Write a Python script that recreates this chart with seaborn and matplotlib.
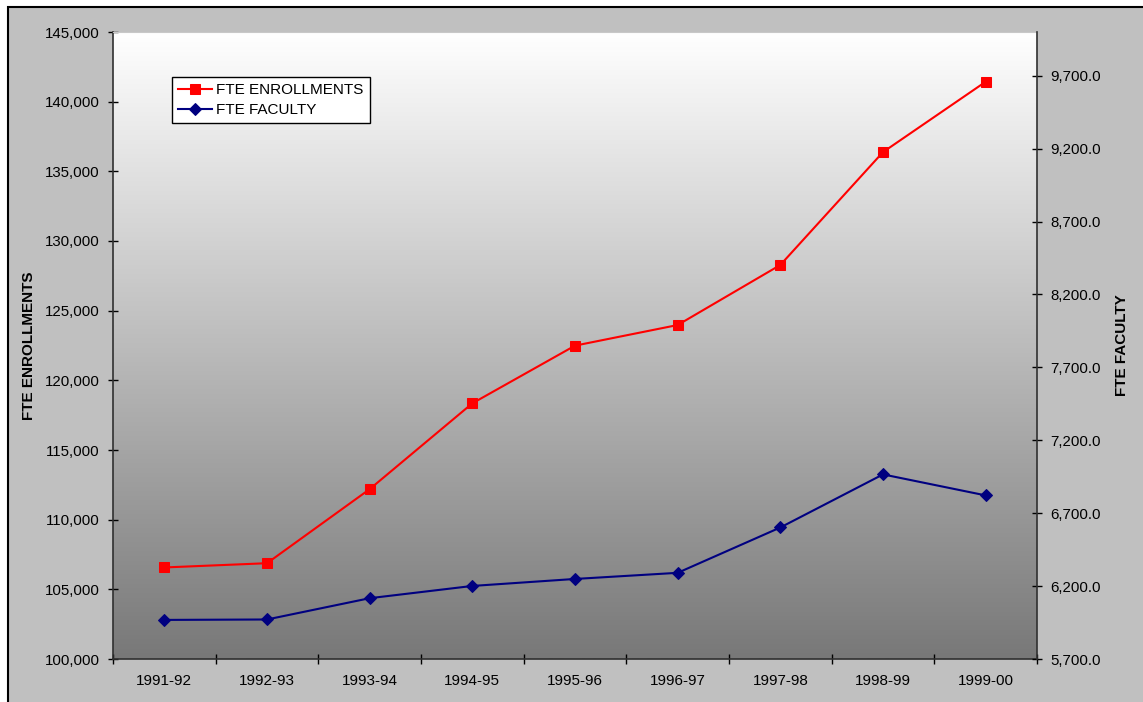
import numpy as np
import pandas as pd
import matplotlib
matplotlib.use('Agg')
import matplotlib.pyplot as plt
import seaborn as sns
from matplotlib.colors import LinearSegmentedColormap
from matplotlib.patches import Rectangle
from matplotlib.ticker import StrMethodFormatter

# chart data
years = ['1991-92', '1992-93', '1993-94', '1994-95', '1995-96',
         '1996-97', '1997-98', '1998-99', '1999-00']
enrollments = [106570, 106875, 112190, 118350, 122490,
               123970, 128280, 136380, 141430]
faculty = [5968, 5971, 6117, 6201, 6249, 6291, 6602, 6966, 6822]

left_ticks = list(range(100000, 145001, 5000))
right_ticks = list(range(5700, 9701, 500))

plt.rcParams['font.family'] = ['Liberation Sans', 'DejaVu Sans']
plt.rcParams['font.size'] = 10.8

df = pd.DataFrame({'pos': np.arange(len(years)), 'year': years,
                   'enroll': enrollments, 'faculty': faculty})

W, H = 1143, 702
fig = plt.figure(figsize=(W / 100, H / 100), dpi=100)
fig.patch.set_facecolor('white')

# grey chart area with black border (runs off the right/bottom edge)
fig.add_artist(Rectangle((8 / W, -0.05), 1.1, 1 - 7 / H + 0.05,
                         transform=fig.transFigure, facecolor='#C0C0C0',
                         edgecolor='black', linewidth=1.5, zorder=0))

left, right, top, bottom = 113, 1037, 32, 659
ax = fig.add_axes([left / W, 1 - bottom / H, (right - left) / W, (bottom - top) / H])

# white-to-grey vertical gradient for the plot area
grad = LinearSegmentedColormap.from_list('bg', ['#FFFFFF', '#787878'])
ax.imshow(np.linspace(0, 1, 256).reshape(-1, 1), cmap=grad, aspect='auto',
          extent=[-0.5, len(years) - 0.5, 100000, 145000], zorder=0)

sns.lineplot(data=df, x='pos', y='enroll', ax=ax, color='#FF0000',
             marker='s', markersize=7, markeredgecolor='#FF0000',
             linewidth=1.5, label='FTE ENROLLMENTS', legend=False, zorder=3)

ax.set_xlim(-0.5, len(years) - 0.5)
ax.set_ylim(100000, 145000)
ax.set_xticks(df['pos'])
ax.set_xticklabels(years, fontsize=11)
ax.set_xticks(np.arange(-0.5, len(years)), minor=True)
ax.tick_params(axis='x', which='major', length=0, pad=11)
ax.tick_params(axis='x', which='minor', direction='inout', length=7, width=1)
ax.set_yticks(left_ticks)
ax.yaxis.set_major_formatter(StrMethodFormatter('{x:,.0f}'))
ax.tick_params(axis='y', direction='inout', length=7, width=1, pad=6)
ax.set_xlabel('')
ax.set_ylabel('FTE ENROLLMENTS', fontweight='bold', fontsize=11)
ax.yaxis.set_label_coords((36 - left) / (right - left), 0.5)
for s in ['left', 'bottom']:
    ax.spines[s].set_color('#303030')
    ax.spines[s].set_linewidth(1.2)
ax.spines['top'].set_color('#C8C8C8')
ax.spines['right'].set_visible(False)

ax2 = ax.twinx()
sns.lineplot(data=df, x='pos', y='faculty', ax=ax2, color='#000080',
             marker='D', markersize=6, markeredgecolor='#000080',
             linewidth=1.5, label='FTE FACULTY', legend=False, zorder=3)
ax2.set_ylim(5700, 10000)
ax2.set_yticks(right_ticks)
ax2.yaxis.set_major_formatter(StrMethodFormatter('{x:,.1f}'))
ax2.tick_params(axis='y', direction='inout', length=7, width=1, pad=6)
ax2.set_ylabel('FTE FACULTY', fontweight='bold', fontsize=11)
ax2.yaxis.set_label_coords((1115 - left) / (right - left), 0.5)
for s in ['left', 'top', 'bottom']:
    ax2.spines[s].set_visible(False)
ax2.spines['right'].set_color('#303030')
ax2.spines['right'].set_linewidth(1.2)

h1, l1 = ax.get_legend_handles_labels()
h2, l2 = ax2.get_legend_handles_labels()
leg = ax2.legend(h1 + h2, l1 + l2, loc='upper left',
                 bbox_to_anchor=((172 - left) / (right - left), (bottom - 77) / (bottom - top)),
                 borderaxespad=0, fancybox=False, framealpha=1, edgecolor='black',
                 handlelength=2.2, handletextpad=0.3, borderpad=0.4, labelspacing=0.4,
                 fontsize=11)
leg.get_frame().set_linewidth(1)

fig.savefig('out.png', dpi=100)
